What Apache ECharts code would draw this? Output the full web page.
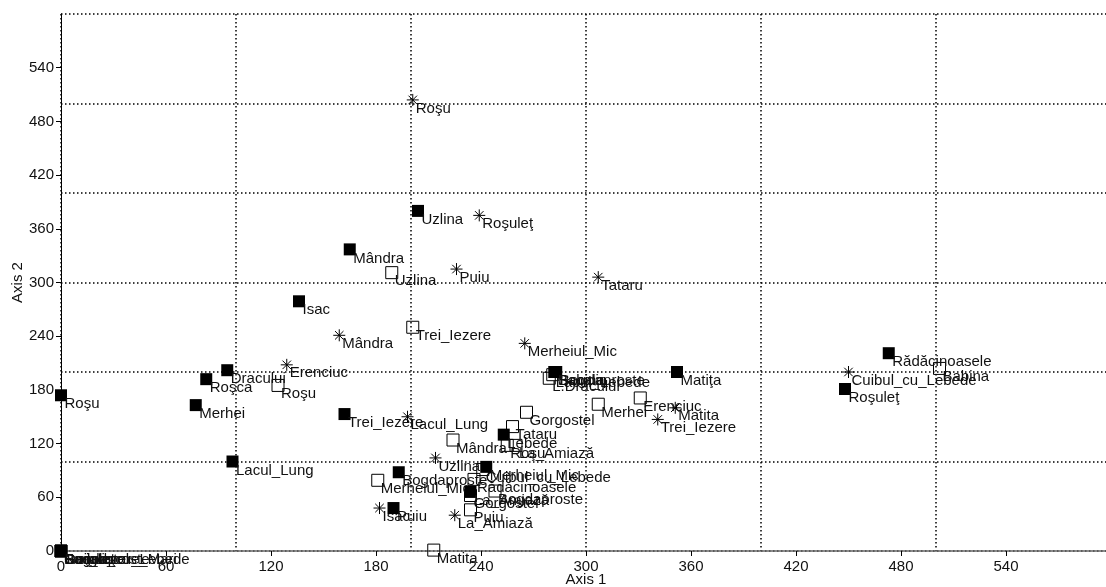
<!DOCTYPE html>
<html>
<head>
<meta charset="utf-8">
<script src="https://cdn.jsdelivr.net/npm/echarts@6/dist/echarts.min.js"></script>
<style>html,body{margin:0;padding:0;background:#fff;}#c{width:1106px;height:587px;}</style>
</head>
<body>
<div id="c"></div>
<script>
// [Axis 1, Axis 2, label]
var openSquares = [
  [189, 311, "Uzlina"], [201, 250, "Trei_Iezere"], [124, 185, "Roşu"],
  [266, 155, "Gorgostel"], [258, 139, "Tataru"], [224, 124, "Mândra"],
  [307, 164, "Merhei"], [331, 171, "Erenciuc"], [502, 204, "Babina"],
  [279, 193, "L.Dracului"], [281, 197, "Lacul_Lebede"], [255, 118, "Roşu"],
  [260, 118, "La_Amiază"], [181, 79, "Merheiul_Mic"], [241, 91, "Cuibul_cu_Lebede"],
  [236, 80, "Rădăcinoasele"], [248, 67, "Bogdaproste"], [234, 62, "Gorgostel"],
  [234, 46, "Puiu"], [213, 1, "Matita"], [0, 0, "Gorgostel"], [0, 0, "Trei_Iezere_Mari"]
];
var asterisks = [
  [201, 504, "Roşu"], [239, 375, "Roşuleţ"], [226, 315, "Puiu"], [307, 306, "Tataru"],
  [159, 241, "Mândra"], [129, 208, "Erenciuc"], [265, 232, "Merheiul_Mic"],
  [198, 150, "Lacul_Lung"], [351, 160, "Matita"], [341, 147, "Trei_Iezere"],
  [450, 200, "Cuibul_cu_Lebede"], [214, 104, "Uzlina"], [182, 48, "Isac"],
  [225, 40, "La_Amiază"], [0, 0, "Sacalin"], [0, 0, "Roşuleţ"]
];
var filledSquares = [
  [0, 174, "Roşu"], [77, 163, "Merhei"], [83, 192, "Roşca"], [95, 202, "Dracului"],
  [98, 100, "Lacul_Lung"], [136, 279, "Isac"], [165, 337, "Mândra"], [204, 380, "Uzlina"],
  [162, 153, "Trei_Iezere"], [473, 221, "Rădăcinoasele"], [448, 181, "Roşuleţ"],
  [352, 200, "Matiţa"], [282, 200, "Babina"], [282, 200, "Sacalin"], [283, 200, "Bogdaproste"],
  [253, 130, "Lebede"], [243, 94, "Merheiul_Mic"], [193, 88, "Bogdaproste"],
  [234, 66, "La_Amiază"], [190, 48, "Puiu"], [0, 0, "Bogdaproste"], [0, 0, "Cuibul_cu_Lebede"]
];
var tickValues = [0, 60, 120, 180, 240, 300, 360, 420, 480, 540];

var FONT = '"Liberation Sans", Arial, sans-serif';
function labelFor(sz) {
  return {
    show: true,
    formatter: function (p) { return p.data[2]; },
    position: [sz / 2 + 3.5, sz / 2 + 1.5],
    align: 'left', verticalAlign: 'top',
    fontFamily: FONT, fontSize: 15, color: '#111'
  };
}
var dotted = { color: '#000', width: 1.5, type: [1.5, 2.5] };
var chart = echarts.init(document.getElementById('c'));
chart.setOption({
  animation: false,
  backgroundColor: '#fff',
  grid: { left: 61, top: 14, right: -5, bottom: 36, containLabel: false, outerBoundsMode: 'none' },
  xAxis: [{
    type: 'value', min: 0, max: 600, interval: 60, position: 'bottom',
    name: 'Axis 1', nameLocation: 'middle', nameGap: 21, nameMoveOverlap: false,
    nameTextStyle: { fontFamily: FONT, fontSize: 15, color: '#111' },
    axisLine: { show: true, onZero: false, lineStyle: { color: '#666', width: 1.5 } },
    axisTick: { show: true, length: 5, lineStyle: { color: '#000' } },
    axisLabel: { fontFamily: FONT, fontSize: 15, color: '#111', margin: 8, showMaxLabel: false,
      formatter: function (v) { return tickValues.indexOf(v) >= 0 ? String(v) : ''; } },
    splitLine: { show: false }
  }, {
    type: 'value', min: 0, max: 600, interval: 100, position: 'bottom',
    axisLine: { show: false }, axisTick: { show: false }, axisLabel: { show: false },
    splitLine: { show: true, showMaxLine: false, lineStyle: dotted }
  }],
  yAxis: [{
    type: 'value', min: 0, max: 600, interval: 60, position: 'left',
    name: 'Axis 2', nameLocation: 'middle', nameGap: 36, nameRotate: 90, nameMoveOverlap: false,
    nameTextStyle: { fontFamily: FONT, fontSize: 15, color: '#111' },
    axisLine: { show: true, onZero: false, lineStyle: { color: '#000', width: 1 } },
    axisTick: { show: true, length: 5, lineStyle: { color: '#000' } },
    axisLabel: { fontFamily: FONT, fontSize: 15, color: '#111', margin: 7, showMaxLabel: false,
      formatter: function (v) { return tickValues.indexOf(v) >= 0 ? String(v) : ''; } },
    splitLine: { show: false }
  }, {
    type: 'value', min: 0, max: 600, interval: 100, position: 'left',
    axisLine: { show: false }, axisTick: { show: false }, axisLabel: { show: false },
    splitLine: { show: true, lineStyle: dotted }
  }],
  series: [{
    type: 'scatter', xAxisIndex: 0, yAxisIndex: 0, data: openSquares,
    symbol: 'rect', symbolSize: 12,
    itemStyle: { color: 'rgba(0,0,0,0)', borderColor: '#000', borderWidth: 1, opacity: 1 },
    label: labelFor(12), z: 3
  }, {
    type: 'scatter', xAxisIndex: 0, yAxisIndex: 0, data: asterisks,
    symbol: 'path://M6,0L6,12M0,6L12,6M1.76,1.76L10.24,10.24M1.76,10.24L10.24,1.76',
    symbolSize: 12,
    itemStyle: { color: 'rgba(0,0,0,0)', borderColor: '#000', borderWidth: 1, opacity: 1 },
    label: labelFor(12), z: 4
  }, {
    type: 'scatter', xAxisIndex: 0, yAxisIndex: 0, data: filledSquares,
    symbol: 'rect', symbolSize: 12,
    itemStyle: { color: '#000', opacity: 1 },
    label: labelFor(12), z: 5
  }]
});
</script>
</body>
</html>
